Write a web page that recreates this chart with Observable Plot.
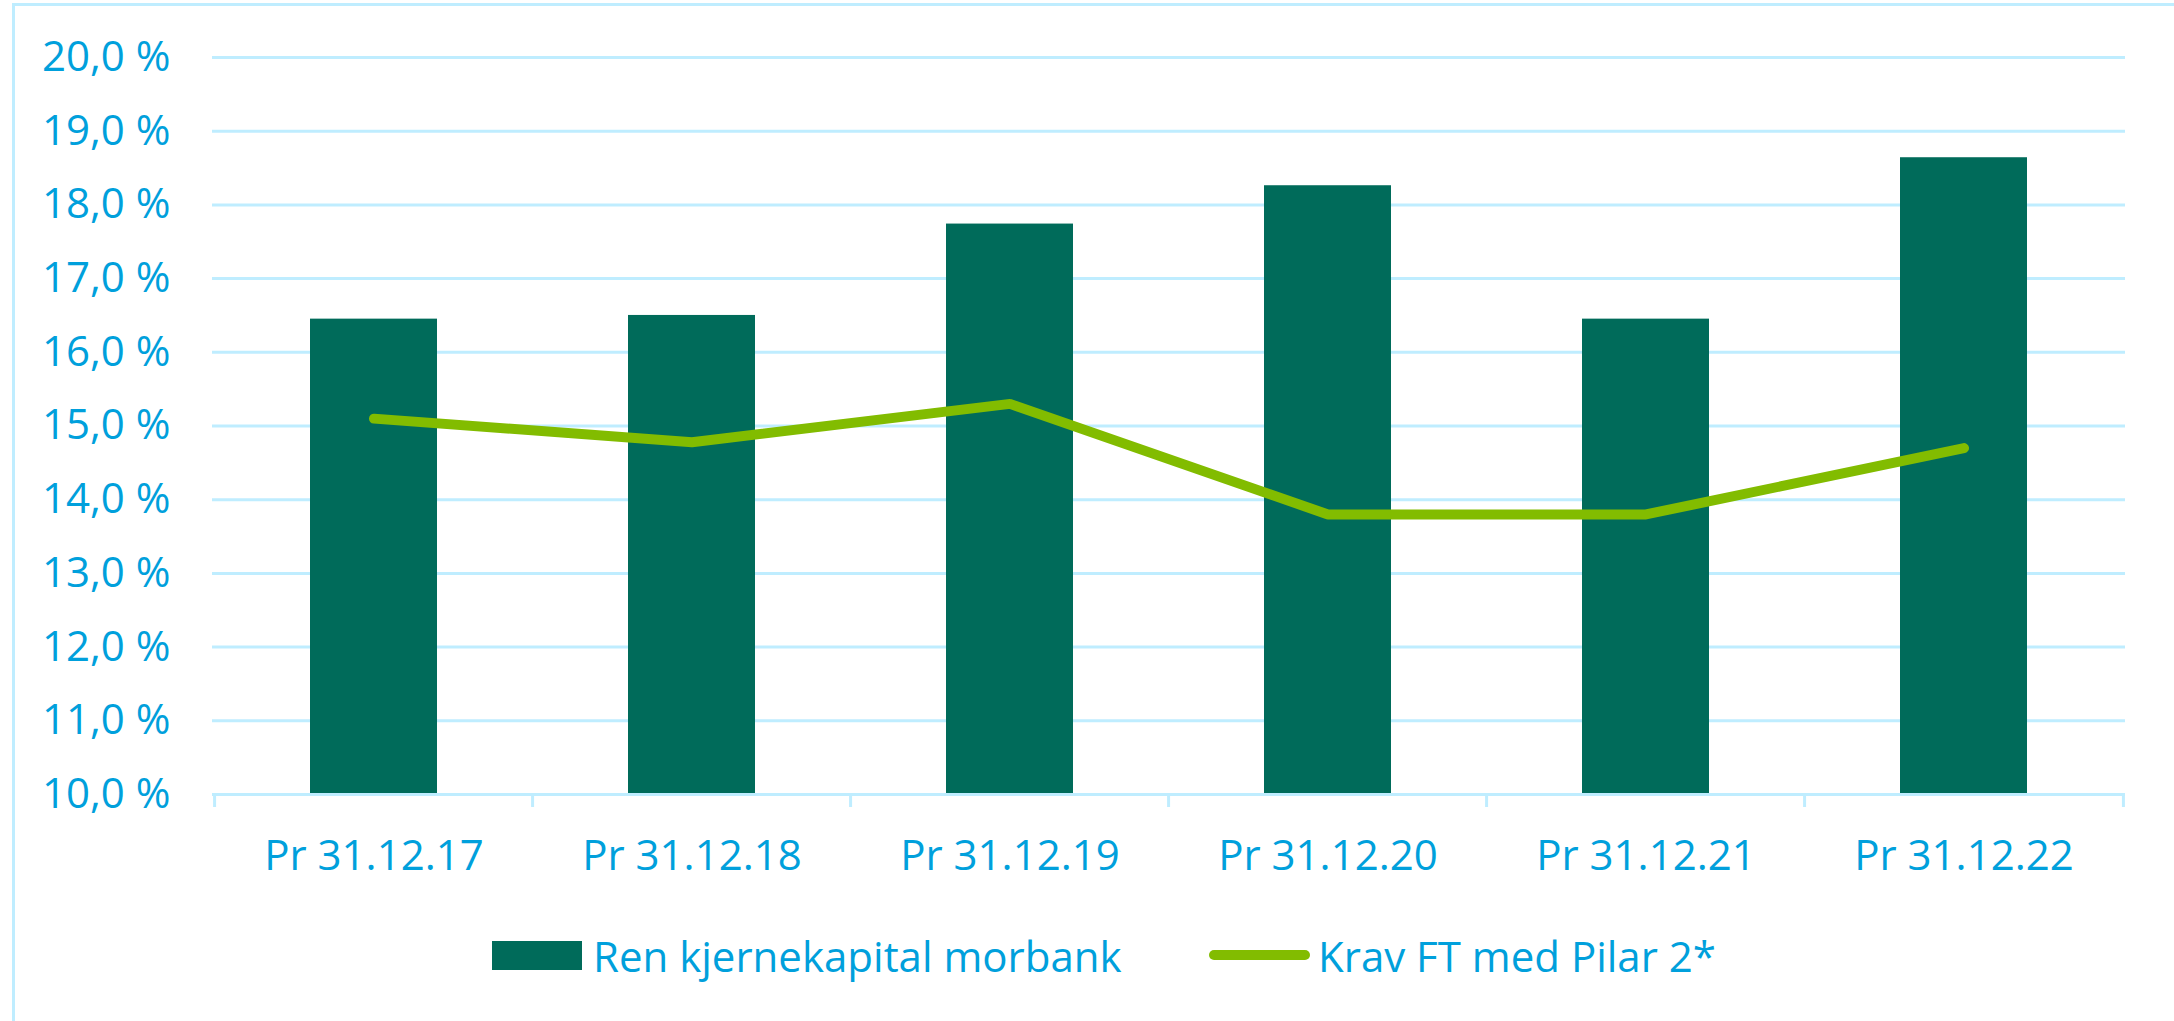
<!DOCTYPE html>
<html>
<head>
<meta charset="utf-8">
<script src="https://cdn.jsdelivr.net/npm/d3@7"></script>
<script src="https://cdn.jsdelivr.net/npm/@observablehq/plot@0.6"></script>
<style>
  html, body { margin: 0; padding: 0; background: #fff; }
  body { width: 2174px; height: 1021px; position: relative; overflow: hidden; font-family: "Open Sans", sans-serif; }
  #frame { position: absolute; left: 12px; top: 3px; right: -10px; bottom: -10px; border-top: 3px solid #BFEDFF; border-left: 3px solid #BFEDFF; }
  #chart { position: absolute; left: 0; top: 0; }
  #legend { position: absolute; left: 0; top: 925px; width: 2174px; height: 60px; color: #00A0DC; font-size: 42px; }
  .item { position: absolute; top: 0; height: 60px; display: flex; align-items: center; white-space: nowrap; }
  .sw-bar { width: 90px; height: 29px; background: #006B5A; margin-right: 11px; }
  .sw-line { width: 101px; height: 10px; border-radius: 5px; background: #82BC00; margin-right: 8px; }
</style>
</head>
<body>
<div id="frame"></div>
<div id="chart"></div>
<div id="legend">
  <div class="item" style="left:492px"><div class="sw-bar"></div><span id="l1"></span></div>
  <div class="item" style="left:1209px"><div class="sw-line"></div><span id="l2"></span></div>
</div>
<script>
const categories = ["Pr 31.12.17", "Pr 31.12.18", "Pr 31.12.19", "Pr 31.12.20", "Pr 31.12.21", "Pr 31.12.22"];
const renKjernekapital = [16.45, 16.5, 17.74, 18.26, 16.45, 18.64];
const kravFT = [15.1, 14.78, 15.3, 13.8, 13.8, 14.7];
const seriesNames = ["Ren kjernekapital morbank", "Krav FT med Pilar 2*"];
const yTicks = [10, 11, 12, 13, 14, 15, 16, 17, 18, 19, 20];

const barColor = "#006B5A";
const lineColor = "#82BC00";
const gridColor = "#BFEDFF";
const textColor = "#00A0DC";

const data = categories.map((c, i) => ({cat: c, bar: renKjernekapital[i], line: kravFT[i]}));

const W = 2174, H = 900;
const mL = 212, mR = 49, mT = 57, mB = 106;
const step = (W - mL - mR) / categories.length;
const plotH = H - mT - mB;

const fmt = d => d.toFixed(1).replace(".", ",") + " %";

const chart = Plot.plot({
  width: W,
  height: H,
  marginLeft: mL,
  marginRight: mR,
  marginTop: mT,
  marginBottom: mB,
  style: {fontFamily: "Open Sans", fontSize: "42px", color: textColor, background: "transparent"},
  x: {type: "band", domain: categories, paddingInner: 0.6, paddingOuter: 0.3, label: null},
  y: {domain: [10, 20], label: null},
  marks: [
    Plot.gridY(yTicks.slice(1), {stroke: gridColor, strokeOpacity: 1, strokeWidth: 3}),
    Plot.axisY(yTicks, {tickSize: 0, tickPadding: 42, tickFormat: fmt, fill: textColor, fontSize: 42, label: null}),
    Plot.barY(data, {x: "cat", y1: 10, y2: "bar", fill: barColor}),
    Plot.ruleY([10], {stroke: gridColor, strokeWidth: 3}),
    Plot.ruleX(categories, {x: d => d, dx: -step / 2, stroke: gridColor, strokeWidth: 3, insetTop: plotH, insetBottom: -13}),
    Plot.ruleX(categories.slice(-1), {x: d => d, dx: step / 2, stroke: gridColor, strokeWidth: 3, insetTop: plotH, insetBottom: -13}),
    Plot.lineY(data, {x: "cat", y: "line", stroke: lineColor, strokeWidth: 10, strokeLinecap: "round", strokeLinejoin: "miter"}),
    Plot.axisX({tickSize: 0, tickPadding: 46, fill: textColor, fontSize: 42, label: null})
  ]
});
document.getElementById("chart").appendChild(chart);
document.getElementById("l1").textContent = seriesNames[0];
document.getElementById("l2").textContent = seriesNames[1];
</script>
</body>
</html>
